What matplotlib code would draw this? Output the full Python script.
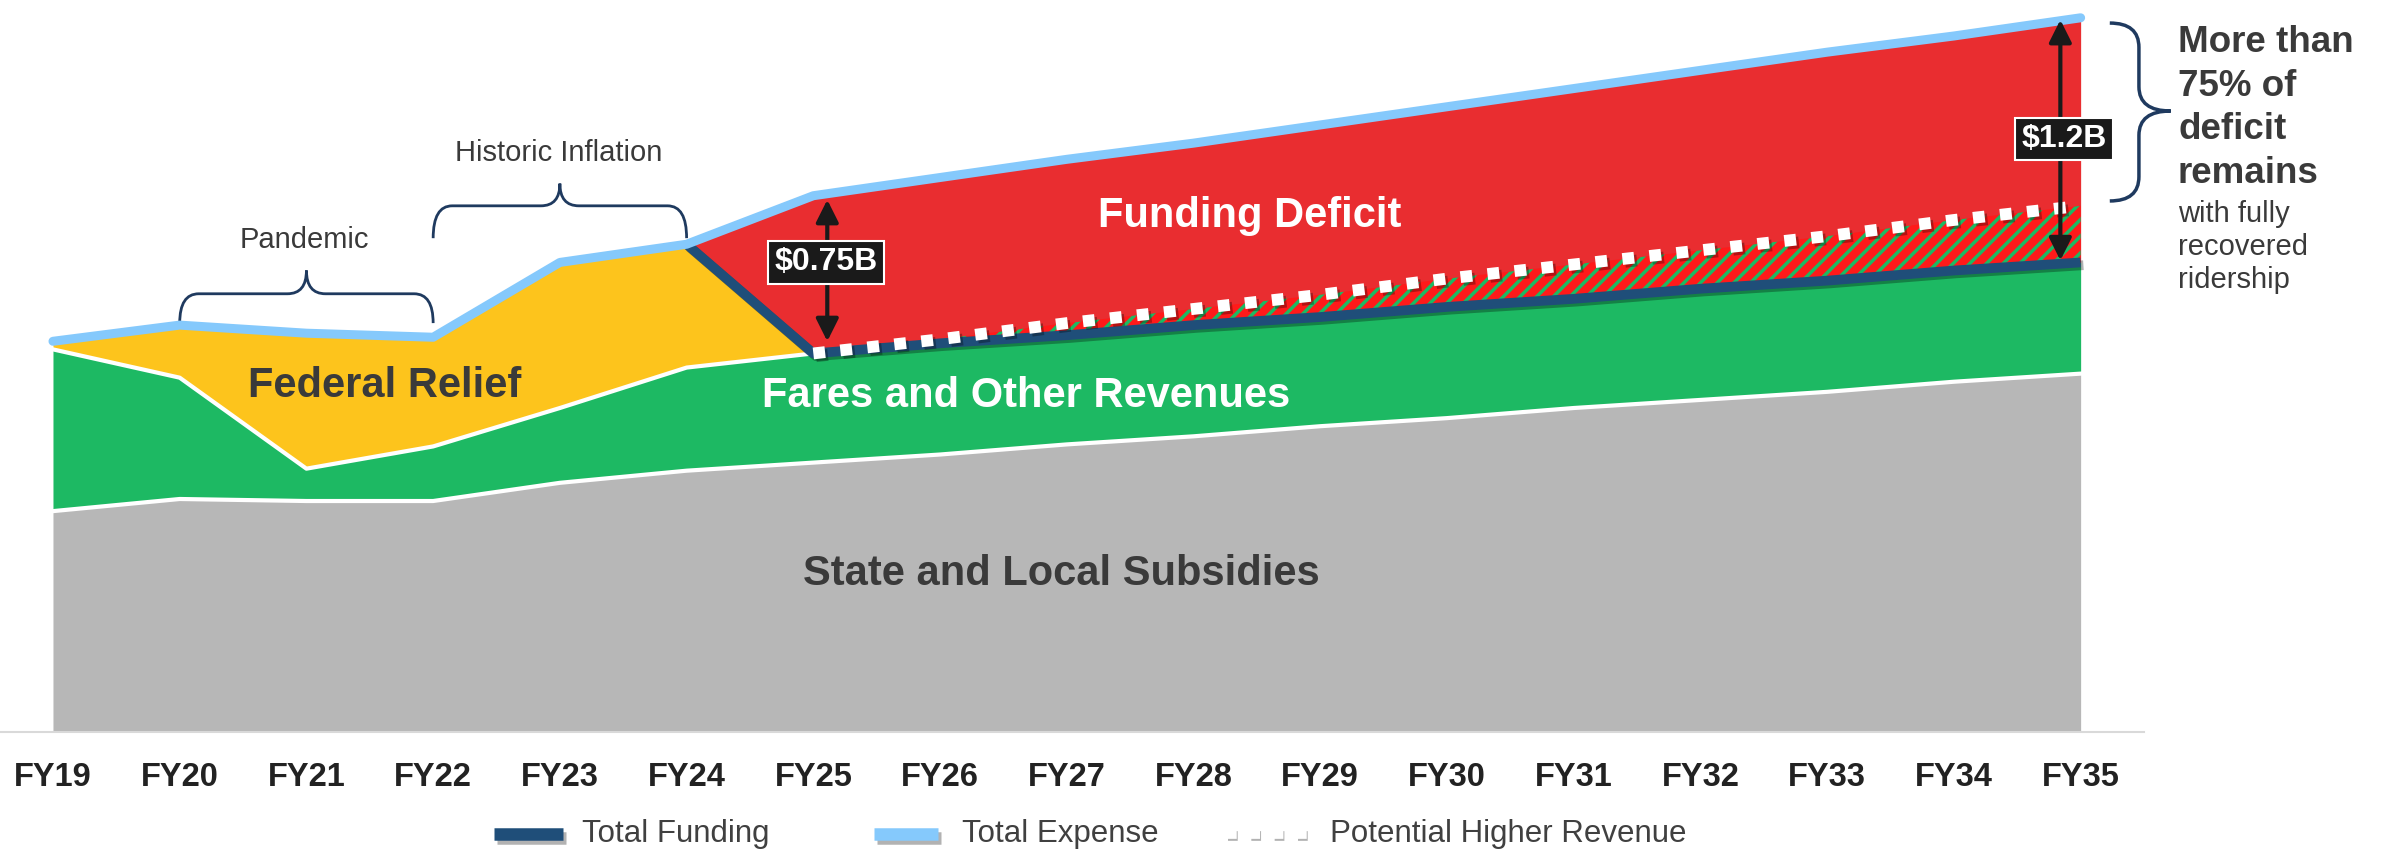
import numpy as np
import matplotlib
matplotlib.use('Agg')
import matplotlib.pyplot as plt
import matplotlib.font_manager as fm
import matplotlib.patheffects as pe
from matplotlib.path import Path
from matplotlib.patches import PathPatch
from matplotlib.lines import Line2D

# data ($B)
years = ['FY19', 'FY20', 'FY21', 'FY22', 'FY23', 'FY24', 'FY25', 'FY26', 'FY27',
         'FY28', 'FY29', 'FY30', 'FY31', 'FY32', 'FY33', 'FY34', 'FY35']
state_local = [1.09, 1.15, 1.14, 1.14, 1.23, 1.29, 1.33, 1.37, 1.42,
               1.46, 1.51, 1.55, 1.60, 1.64, 1.68, 1.73, 1.77]
fares_top = [1.89, 1.75, 1.30, 1.41, 1.60, 1.80, 1.87, 1.92, 1.96,
             2.01, 2.05, 2.10, 2.14, 2.19, 2.23, 2.28, 2.32]
total_funding = [1.93, 2.01, 1.97, 1.95, 2.32, 2.41, 1.87, 1.92, 1.96,
                 2.01, 2.05, 2.10, 2.14, 2.19, 2.23, 2.28, 2.32]
total_expense = [1.93, 2.01, 1.97, 1.95, 2.32, 2.41, 2.65, 2.74, 2.83,
                 2.91, 3.00, 3.09, 3.18, 3.27, 3.36, 3.44, 3.53]
potential_rev = [1.87, 1.94, 2.02, 2.09, 2.16, 2.24, 2.31, 2.38, 2.45, 2.53, 2.60]  # FY25..FY35
legend_labels = ['Total Funding', 'Total Expense', 'Potential Higher Revenue']

names = {f.name for f in fm.fontManager.ttflist}
NARROW = 'Liberation Sans Narrow' if 'Liberation Sans Narrow' in names else 'Liberation Sans'
WIDE = 'Liberation Sans'
# no narrow face -> shrink the sizes so widths match
BIG = 36 if NARROW != WIDE else 30
TICK = 26 if NARROW != WIDE else 23.5
BOX = 25 if NARROW != WIDE else 23
LEG = 24 if NARROW != WIDE else 22.5

C_GRAY = '#B7B7B7'
C_GREEN = '#1DB963'
C_YELLOW = '#FDC41C'
C_RED = '#E92D30'
C_NAVY = '#1F4E79'
C_LBLUE = '#85C9FC'
C_TXT = '#3A3A3A'
C_BRACE = '#1F3A5F'

x = np.arange(len(years))
sl = np.array(state_local)
ft = np.array(fares_top)
tf = np.array(total_funding)
te = np.array(total_expense)
pr = np.array(potential_rev)
xf = x[6:]

fig = plt.figure(figsize=(23.84, 8.5), dpi=100)
ax = fig.add_axes([0, 0.1394, 2144 / 2384, 1 - 0.1394])
ax.set_xlim(-0.418, 16.50)
ax.set_ylim(0, 3.618)

# stacked areas
ax.fill_between(x, 0, sl, color=C_GRAY, lw=0)
ax.fill_between(x, sl, ft, color=C_GREEN, lw=0)
ax.fill_between(x[:7], ft[:7], tf[:7], color=C_YELLOW, lw=0)
ax.fill_between(x[5:], tf[5:], te[5:], color=C_RED, lw=0)
plt.rcParams['hatch.linewidth'] = 2.5
ax.fill_between(xf, ft[6:], pr, facecolor='#FF1A1A', edgecolor=C_GREEN, hatch='//', lw=0)

# separators
ax.plot(x, sl, color='white', lw=3)
ax.plot(x[:7], ft[:7], color='white', lw=3)

shadow = [pe.SimpleLineShadow(offset=(2, -2), shadow_color='black', alpha=0.3), pe.Normal()]
ax.plot(x[5:], tf[5:], color=C_NAVY, lw=7, solid_capstyle='butt', path_effects=shadow)
ax.plot(xf, pr, color='white', lw=8.5, dashes=(1, 1.3), dash_capstyle='butt', path_effects=shadow)
ax.plot(x, te, color=C_LBLUE, lw=6.5, solid_capstyle='round', solid_joinstyle='round')

# arrows + value boxes
arr = dict(arrowstyle='<|-|>', color='#1A1A1A', lw=3, mutation_scale=34, shrinkA=0, shrinkB=0)
ax.annotate('', xy=(6.11, 2.63), xytext=(6.11, 1.93), arrowprops=arr)
ax.annotate('', xy=(15.84, 3.52), xytext=(15.84, 2.33), arrowprops=arr)
box = dict(boxstyle='square,pad=0.2', fc='#1A1A1A', ec='white', lw=1.5)
ax.text(6.1, 2.32, '$0.75B', color='white', fontsize=BOX, fontweight='bold', family=NARROW,
        ha='center', va='center', bbox=box)
ax.text(15.87, 2.93, '$1.2B', color='white', fontsize=BOX, fontweight='bold', family=NARROW,
        ha='center', va='center', bbox=box)

# area labels
ax.text(2.62, 1.71, 'Federal Relief', color=C_TXT, fontsize=BIG, fontweight='bold', family=NARROW,
        ha='center', va='center')
ax.text(9.44, 2.55, 'Funding Deficit', color='white', fontsize=BIG, fontweight='bold', family=NARROW,
        ha='center', va='center')
ax.text(7.68, 1.66, 'Fares and Other Revenues', color='white', fontsize=BIG, fontweight='bold',
        family=NARROW, ha='center', va='center')
ax.text(7.96, 0.78, 'State and Local Subsidies', color=C_TXT, fontsize=BIG, fontweight='bold',
        family=NARROW, ha='center', va='center')
ax.text(1.98, 2.43, 'Pandemic', color=C_TXT, fontsize=21, family=WIDE, ha='center', va='center')
ax.text(3.99, 2.86, 'Historic Inflation', color=C_TXT, fontsize=21, family=WIDE, ha='center', va='center')


def hbrace(x0, x1, yb, yl, yt, r=0.15):
    xm = (x0 + x1) / 2
    verts = [(x0, yb), (x0, yl), (x0 + r, yl), (xm - r, yl), (xm, yl), (xm, yt),
             (xm, yl), (xm + r, yl), (x1 - r, yl), (x1, yl), (x1, yb)]
    codes = [Path.MOVETO, Path.CURVE3, Path.CURVE3, Path.LINETO, Path.CURVE3, Path.CURVE3,
             Path.CURVE3, Path.CURVE3, Path.LINETO, Path.CURVE3, Path.CURVE3]
    ax.add_patch(PathPatch(Path(verts, codes), fc='none', ec=C_BRACE, lw=2, clip_on=False))


def vbrace(y0, y1, xe, xl, xt, ym, r=0.12):
    verts = [(xe, y0), (xl, y0), (xl, y0 - r), (xl, ym + r), (xl, ym), (xt, ym),
             (xl, ym), (xl, ym - r), (xl, y1 + r), (xl, y1), (xe, y1)]
    codes = [Path.MOVETO, Path.CURVE3, Path.CURVE3, Path.LINETO, Path.CURVE3, Path.CURVE3,
             Path.CURVE3, Path.CURVE3, Path.LINETO, Path.CURVE3, Path.CURVE3]
    ax.add_patch(PathPatch(Path(verts, codes), fc='none', ec=C_BRACE, lw=2.5, clip_on=False))


hbrace(1, 3, 2.02, 2.165, 2.28)
hbrace(3, 5, 2.44, 2.60, 2.71)
vbrace(3.504, 2.624, 16.23, 16.46, 16.71, 3.069)

# right-hand note
for i, s in enumerate(['More than', '75% of', 'deficit', 'remains']):
    fig.text(2178 / 2384, 1 - (52 + 43.7 * i) / 850, s, color=C_TXT, fontsize=26.5,
             fontweight='bold', family=WIDE, va='baseline')
for i, s in enumerate(['with fully', 'recovered', 'ridership']):
    fig.text(2178 / 2384, 1 - (222 + 33 * i) / 850, s, color=C_TXT, fontsize=21,
             family=WIDE, va='baseline')

# axis
ax.set_xticks(x)
ax.set_xticklabels(years, fontsize=TICK, fontweight='bold', family=NARROW, color='#222222')
ax.tick_params(axis='x', length=0, pad=22)
ax.set_yticks([])
for s in ['top', 'left', 'right']:
    ax.spines[s].set_visible(False)
ax.spines['bottom'].set_color('#D9D9D9')
ax.spines['bottom'].set_linewidth(1.5)

# legend, placed by hand in figure pixels
W, H = 2384, 850
ly = 1 - 834 / H
leg_shadow = [pe.SimpleLineShadow(offset=(2, -3), alpha=0.3), pe.Normal()]
dot_shadow = [pe.SimpleLineShadow(offset=(1, -1.5), shadow_color='#808080', alpha=0.6),
              pe.Normal()]
fig.add_artist(Line2D([494 / W, 563 / W], [ly, ly], color=C_NAVY, lw=9, solid_capstyle='butt',
                      path_effects=leg_shadow))
fig.add_artist(Line2D([874 / W, 938 / W], [ly, ly], color=C_LBLUE, lw=9, solid_capstyle='butt',
                      path_effects=leg_shadow))
fig.add_artist(Line2D([1227 / W, 1310 / W], [ly, ly], color='white', lw=7, dashes=(1, 1.4),
                      dash_capstyle='butt', path_effects=dot_shadow))
for xp, s in zip([582, 962, 1330], legend_labels):
    fig.text(xp / W, ly, s, color='#404040', fontsize=LEG, family=NARROW, va='center')

fig.savefig('out.png', dpi=100)
